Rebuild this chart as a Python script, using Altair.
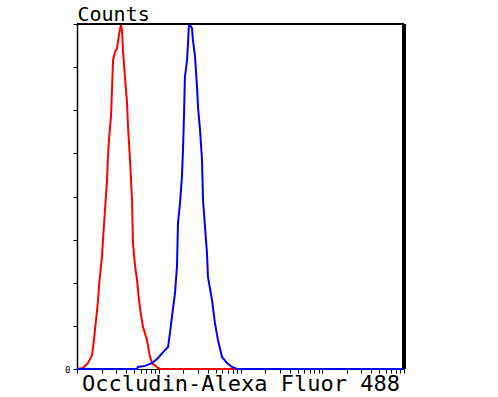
import altair as alt
import pandas as pd

# Red (control) histogram: fluorescence intensity (log) and relative counts
red_x = [1.0, 1.18, 1.36, 1.53, 1.61, 1.71, 1.81, 1.86, 2.02, 2.08, 2.20, 2.33, 2.39, 2.46,
         2.61, 2.68, 2.76, 2.92, 3.09, 3.26, 3.45, 3.55, 3.65, 3.87, 4.09, 4.21, 4.45,
         4.71, 4.84, 5.12, 5.42, 5.73, 6.06, 6.42, 7.18, 7.81, 8.27, 9.79, 10.4, 98.6]
red_y = [0, 0.3, 1.7, 4.1, 8.4, 14.2, 20.0, 24.3, 32.5, 37.4, 46.1, 54.8, 61.4, 66.4,
         73.6, 80.9, 89.6, 91.9, 93.0, 96.8, 99.7, 98.3, 92.5, 84.3, 77.4, 70.1, 60.6,
         49.0, 36.5, 30.1, 25.8, 20.0, 15.7, 12.2, 8.4, 3.5, 1.7, 0.3, 0, 0]

# Blue (Occludin-Alexa Fluor 488) histogram
blue_x = [1.0, 5.42, 5.57, 6.79, 8.27, 9.79, 11.3, 13.0, 13.7, 14.5, 15.8, 16.7, 17.2,
          18.2, 19.2, 19.8, 20.4, 20.9, 22.2, 22.8, 23.4, 24.1, 25.5, 26.2, 27.8, 29.4,
          30.2, 32.0, 33.8, 34.8, 36.8, 38.9, 40.0, 44.8, 48.7, 53.0, 59.4, 68.4, 78.7,
          90.6, 10000]
blue_y = [0, 0, 0.6, 0.9, 1.7, 3.2, 4.9, 6.4, 10.4, 15.1, 22.0, 29.6, 42.3,
          48.1, 55.7, 63.5, 74.2, 84.6, 89.6, 94.5, 99.7, 99.7, 98.8, 95.4, 90.4, 81.7,
          75.9, 69.3, 60.6, 49.0, 41.2, 33.6, 26.7, 20.0, 13.3, 8.4, 3.5, 1.7, 0.6,
          0, 0]

x_ticks = [m * 10 ** k for k in range(4) for m in range(1, 10)] + [10000]
y_ticks = [0, 12.5, 25, 37.5, 50, 62.5, 75, 87.5, 100]

df = pd.concat([
    pd.DataFrame({"x": red_x, "y": red_y, "s": "control", "o": list(range(len(red_x)))}),
    pd.DataFrame({"x": blue_x, "y": blue_y, "s": "sample", "o": list(range(len(blue_x)))}),
])

FONT = "DejaVu Sans Mono"
W, H = 327, 345

x_enc = alt.X("x:Q", scale=alt.Scale(type="log", domain=[1, 10000], nice=False),
              axis=alt.Axis(values=x_ticks, labels=False, grid=False, tickSize=4,
                            tickColor="black", domainColor="black",
                            title="Occludin-Alexa Fluor 488", titleFont=FONT,
                            titleFontSize=22, titleFontWeight="normal",
                            titleColor="black", titlePadding=0))
y_enc = alt.Y("y:Q", scale=alt.Scale(domain=[0, 100], nice=False),
              axis=alt.Axis(values=y_ticks, grid=False, tickSize=4, tickColor="black",
                            domainColor="black", domainWidth=1.5,
                            labelExpr="datum.value == 0 ? '0' : ''", labelFont=FONT,
                            labelFontSize=9, labelColor="black", labelPadding=3,
                            title="Counts", titleFont=FONT, titleFontSize=20,
                            titleFontWeight="normal", titleColor="black", titleAngle=0,
                            titleAlign="left", titleBaseline="alphabetic",
                            titleX=0, titleY=-4))

lines = alt.Chart(df).mark_line(strokeWidth=2).encode(
    x=x_enc, y=y_enc,
    color=alt.Color("s:N", scale=alt.Scale(domain=["control", "sample"],
                                           range=["#ff0000", "#0000ff"]), legend=None),
    order="o:Q",
    detail="s:N",
)

right_border = alt.Chart(df).mark_rule(color="black", strokeWidth=3).encode(
    x=alt.value(W), y=alt.value(0), y2=alt.value(H))
top_border = alt.Chart(df).mark_rule(color="black", strokeWidth=1.5).encode(
    x=alt.value(0), x2=alt.value(W), y=alt.value(0))

chart = alt.layer(lines, right_border, top_border).properties(
    width=W, height=H,
    autosize=alt.AutoSizeParams(type="none"),
    padding={"left": 77, "top": 24, "right": 94, "bottom": 28},
).configure_view(stroke=None)

chart.save("out.html", embed_options={"renderer": "svg", "actions": False})
